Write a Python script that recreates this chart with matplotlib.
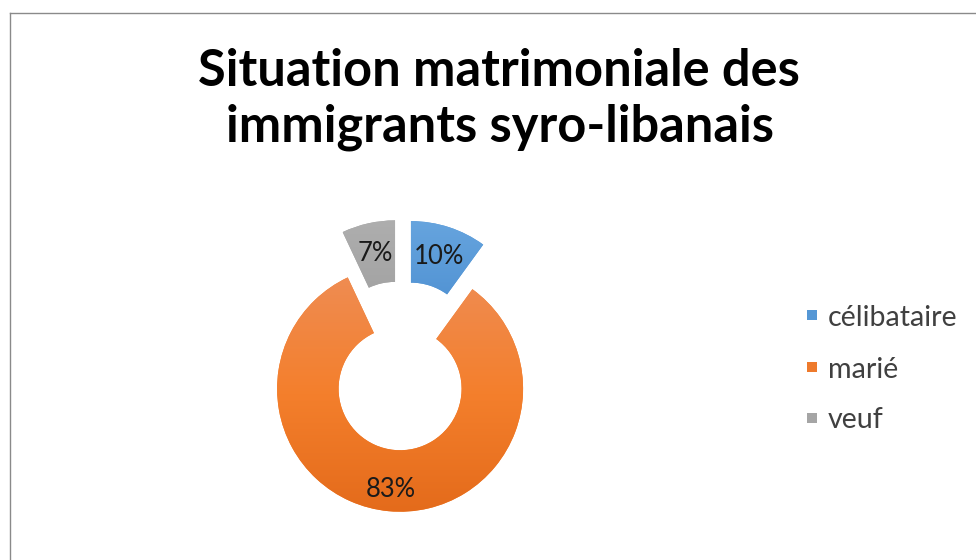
import matplotlib
matplotlib.use('Agg')
import matplotlib.pyplot as plt
import numpy as np
from matplotlib.lines import Line2D
from matplotlib.patches import Rectangle
from matplotlib.colors import LinearSegmentedColormap

categories = ['célibataire', 'marié', 'veuf']
values = [10, 83, 7]
title_lines = ['Situation matrimoniale des', 'immigrants syro-libanais']

top_colors = ['#66A4DE', '#EF8C52', '#AEAEAE']
mid_colors = ['#5697D6', '#F47F2C', '#A5A5A5']
bottom_colors = ['#4787CA', '#E46B1B', '#9B9B9B']
legend_colors = ['#5597D5', '#EE7A2C', '#A5A5A5']
explode = [0.245, 0.13, 0.245]

W, H = 976, 560
fig = plt.figure(figsize=(W / 100, H / 100), dpi=100)
fig.patch.set_facecolor('white')
FONT = ['Lato', 'DejaVu Sans']

# frame (top and left edges visible)
fig.add_artist(Line2D([9.5 / W, 1.0], [1 - 12.5 / H, 1 - 12.5 / H], color='#8a8a8a', lw=1.0))
fig.add_artist(Line2D([9.5 / W, 9.5 / W], [0, 1 - 12.5 / H], color='#8a8a8a', lw=1.0))

R = 123.0
cx, cy = 401.6, 372.8
half = 1.5
size = 2 * half * R
ax = fig.add_axes([(cx - size / 2) / W, (H - cy - size / 2) / H, size / W, size / H])
ax.set_xlim(-half, half)
ax.set_ylim(-half, half)
ax.axis('off')

wedges, texts, autotexts = ax.pie(
    values, startangle=90, counterclock=False, explode=explode,
    autopct='%1.0f%%', pctdistance=0.75, radius=1.0,
    wedgeprops=dict(width=0.5, linewidth=0),
    textprops=dict(color='#1a1a1a', family=FONT))

fig.canvas.draw()
renderer = fig.canvas.get_renderer()

def fit(t, target):
    t.set_fontsize(10)
    w = t.get_window_extent(renderer).width
    t.set_fontsize(10 * target / w)

for w, c0, cm, c1 in zip(wedges, top_colors, mid_colors, bottom_colors):
    verts = w.get_path().vertices
    x0, y0 = verts.min(axis=0)
    x1, y1 = verts.max(axis=0)
    w.set_facecolor(cm)
    cmap = LinearSegmentedColormap.from_list('g', [c1, cm, c0])
    grad = np.linspace(0, 1, 256).reshape(-1, 1)
    im = ax.imshow(grad, cmap=cmap, extent=[x0, x1, y0, y1], origin='lower',
                   aspect='auto', zorder=w.get_zorder() + 0.1, interpolation='bilinear')
    im.set_clip_path(w)

for t in autotexts:
    t.set_zorder(5)
fit(autotexts[1], 50)
for t in autotexts:
    t.set_fontsize(autotexts[1].get_fontsize())
# nudge the big slice label slightly outward, as in the reference
x, y = autotexts[1].get_position()
autotexts[1].set_position((x * 1.07, y * 1.07 - 0.01))

ax.set_xlim(-half, half)
ax.set_ylim(-half, half)

# title
t1 = fig.text(499 / W, 1 - 72 / H, title_lines[0], ha='center', va='center',
              fontweight='bold', family=FONT, color='#000000')
fit(t1, 602)
t2 = fig.text(500 / W, 1 - 127 / H, title_lines[1], ha='center', va='center',
              fontweight='bold', family=FONT, color='#000000', fontsize=t1.get_fontsize())

# legend
ys = [315, 367, 418]
lts = []
for cat, c, y in zip(categories, legend_colors, ys):
    fig.add_artist(Rectangle((807 / W, 1 - (y + 5) / H), 10 / W, 10 / H,
                             transform=fig.transFigure, facecolor=c, edgecolor='none'))
    lt = fig.text(828 / W, 1 - y / H, cat, ha='left', va='center_baseline',
                  family=FONT, color='#404040')
    lts.append(lt)
fit(lts[0], 130)
for lt in lts[1:]:
    lt.set_fontsize(lts[0].get_fontsize())

fig.savefig('out.png', dpi=100, facecolor='white')
